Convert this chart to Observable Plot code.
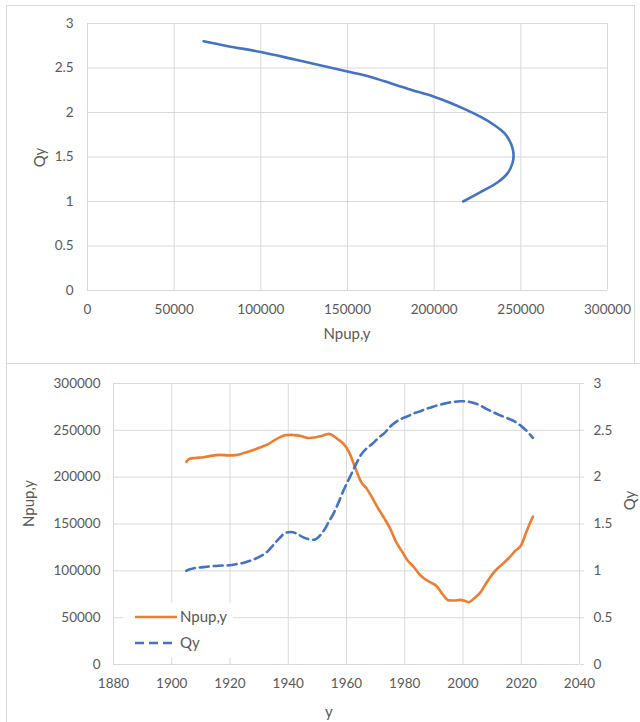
<!DOCTYPE html>
<html>
<head>
<meta charset="utf-8">
<script src="https://cdn.jsdelivr.net/npm/d3@7"></script>
<script src="https://cdn.jsdelivr.net/npm/@observablehq/plot@0.6"></script>
<style>
  html, body { margin: 0; padding: 0; background: #fff; }
  #page { position: relative; width: 640px; height: 722px; overflow: hidden; font-family: Lato, "Open Sans", sans-serif; color: #595959; }
  .title { position: absolute; font-size: 15px; color: #595959; white-space: nowrap; line-height: 1; }
</style>
</head>
<body>
<div id="page"></div>
<script>
// ---- Top chart: Qy vs Npup,y (curve) ----
const topN = [67000, 81000, 100000, 119600, 131000, 150000, 161500, 171400, 185000, 199500, 207700, 217300, 226900, 234600, 240400, 243300, 245200, 245800, 245200, 242300, 236500, 228800, 216700];
const topQ = [2.80, 2.745, 2.68, 2.595, 2.545, 2.46, 2.41, 2.35, 2.265, 2.18, 2.12, 2.04, 1.95, 1.86, 1.77, 1.69, 1.60, 1.52, 1.43, 1.316, 1.214, 1.128, 1.00];
const topXTicks = [0, 50000, 100000, 150000, 200000, 250000, 300000];
const topYTicks = [0, 0.5, 1, 1.5, 2, 2.5, 3];

// ---- Bottom chart: time series ----
const years = [1905, 1906, 1908, 1911, 1914, 1916, 1920, 1922, 1925, 1928, 1931, 1933, 1935, 1937, 1939, 1941, 1943, 1945, 1947, 1949, 1951, 1953, 1954, 1955, 1957, 1959, 1961, 1963, 1965, 1967, 1969, 1971, 1973, 1975, 1977, 1979, 1981, 1983, 1985, 1987, 1989, 1991, 1993, 1995, 1997, 1999, 2001, 2002, 2004, 2006, 2008, 2010, 2012, 2014, 2016, 2018, 2020, 2022, 2024];
const npup = [216500, 219500, 220500, 221300, 223000, 223800, 223300, 223500, 226000, 229000, 232500, 235000, 239000, 242500, 244800, 245200, 244600, 243300, 241800, 242300, 243700, 245500, 246200, 245000, 240500, 235500, 226000, 210000, 195000, 187500, 177000, 166000, 156000, 145000, 131000, 121000, 111000, 104500, 96500, 91000, 87500, 83500, 75000, 68500, 68300, 69000, 67500, 66500, 71000, 77000, 87000, 96000, 103000, 108500, 114500, 121500, 127500, 143500, 158000];
const qy = [1.00, 1.015, 1.03, 1.04, 1.05, 1.055, 1.06, 1.07, 1.09, 1.12, 1.165, 1.21, 1.28, 1.35, 1.405, 1.415, 1.395, 1.36, 1.338, 1.332, 1.38, 1.47, 1.53, 1.58, 1.71, 1.86, 1.99, 2.12, 2.24, 2.31, 2.36, 2.42, 2.47, 2.54, 2.59, 2.625, 2.65, 2.68, 2.70, 2.725, 2.745, 2.765, 2.78, 2.795, 2.805, 2.81, 2.81, 2.805, 2.79, 2.765, 2.73, 2.70, 2.67, 2.645, 2.62, 2.59, 2.545, 2.49, 2.42];
const yearTicks = [1880, 1900, 1920, 1940, 1960, 1980, 2000, 2020, 2040];
const leftTicks = [0, 50000, 100000, 150000, 200000, 250000, 300000];
const rightTicks = [0, 0.5, 1, 1.5, 2, 2.5, 3];

const ORANGE = "#ED7D31", BLUE = "#4472C4", GRID = "#d9d9d9", TXT = "#595959";
const FONT = "Lato, 'Open Sans', sans-serif";

const page = document.getElementById("page");
function place(el, left, topPx) { el.style.position = "absolute"; el.style.left = left + "px"; el.style.top = topPx + "px"; page.appendChild(el); return el; }
function title(text, cx, cy, rot) {
  const d = document.createElement("div");
  d.className = "title";
  d.textContent = text;
  page.appendChild(d);
  const w = d.offsetWidth, h = d.offsetHeight;
  d.style.left = (cx - w / 2) + "px";
  d.style.top = (cy - h / 2) + "px";
  if (rot) d.style.transform = `rotate(${rot}deg)`;
  return d;
}

// Chart borders
const b1 = document.createElement("div");
b1.style.cssText = `width:629px;height:359px;border:1px solid ${GRID};box-sizing:border-box;`;
place(b1, 6, 5);
const b2 = document.createElement("div");
b2.style.cssText = `width:700px;height:400px;border-left:1px solid ${GRID};border-top:1px solid ${GRID};box-sizing:border-box;`;
place(b2, 6, 363);

// ---- Top plot ----
const topData = topN.map((n, i) => ({n, q: topQ[i]}));
const topPlot = Plot.plot({
  width: 640, height: 364,
  marginLeft: 87, marginRight: 33, marginTop: 23, marginBottom: 74,
  style: {fontFamily: FONT, fontSize: "13.5px", color: TXT, background: "transparent", overflow: "visible"},
  x: {domain: [0, 300000], label: null},
  y: {domain: [0, 3], label: null},
  marks: [
    Plot.gridX(topXTicks, {stroke: GRID, strokeOpacity: 1, strokeWidth: 1}),
    Plot.gridY(topYTicks, {stroke: GRID, strokeOpacity: 1, strokeWidth: 1}),
    Plot.axisX(topXTicks, {tickSize: 0, tickPadding: 14, tickFormat: d => String(d), label: null, fill: TXT}),
    Plot.axisY(topYTicks, {tickSize: 0, tickPadding: 14, tickFormat: d => String(d), label: null, fill: TXT}),
    Plot.line(topData, {x: "n", y: "q", stroke: BLUE, strokeWidth: 2.6, curve: "catmull-rom"})
  ]
});
place(topPlot, 0, 0);
title("Npup,y", 347, 333, 0);
title("Qy", 40, 157, -90);

// ---- Bottom plot ----
const series = years.map((y, i) => ({year: y, n: npup[i], q: qy[i]}));
const SCALE = 100000; // right axis (Qy) shares the left scale: 3 -> 300000
const bottomPlot = Plot.plot({
  width: 640, height: 358,
  marginLeft: 113, marginRight: 61, marginTop: 19, marginBottom: 58,
  style: {fontFamily: FONT, fontSize: "13.5px", color: TXT, background: "transparent", overflow: "visible"},
  x: {domain: [1880, 2040], label: null},
  y: {domain: [0, 300000], label: null},
  marks: [
    Plot.gridX(yearTicks, {stroke: GRID, strokeOpacity: 1, strokeWidth: 1}),
    Plot.gridY(leftTicks, {stroke: GRID, strokeOpacity: 1, strokeWidth: 1}),
    Plot.axisX(yearTicks, {tickSize: 0, tickPadding: 14, tickFormat: d => String(d), label: null, fill: TXT}),
    Plot.axisY(leftTicks, {anchor: "left", tickSize: 0, tickPadding: 13, tickFormat: d => String(d), label: null, fill: TXT}),
    Plot.axisY(rightTicks.map(v => v * SCALE), {anchor: "right", tickSize: 4, stroke: GRID, tickPadding: 10, tickFormat: d => String(d / SCALE), label: null, fill: TXT}),
    Plot.line(series, {x: "year", y: "n", stroke: ORANGE, strokeWidth: 2.6, curve: "monotone-x"}),
    Plot.line(series, {x: "year", y: d => d.q * SCALE, stroke: BLUE, strokeWidth: 2.6, strokeDasharray: "9,5", curve: "monotone-x"})
  ]
});
place(bottomPlot, 0, 364);
title("y", 329, 711, 0);
title("Npup,y", 28, 503, -90);
title("Qy", 630, 500, -90);

// Legend (inside plot area, lower left)
const leg = document.createElement("div");
leg.style.cssText = `width:110px;height:55px;background:#fff;`;
place(leg, 123, 603);
const legSvg = d3.create("svg").attr("width", 110).attr("height", 55).style("position", "absolute").style("left", "0px").style("top", "0px");
legSvg.append("line").attr("x1", 12).attr("x2", 54).attr("y1", 14).attr("y2", 14).attr("stroke", ORANGE).attr("stroke-width", 2.6);
legSvg.append("line").attr("x1", 12).attr("x2", 54).attr("y1", 40).attr("y2", 40).attr("stroke", BLUE).attr("stroke-width", 2.6).attr("stroke-dasharray", "9,5");
legSvg.append("text").attr("x", 57).attr("y", 14).attr("dy", "0.35em").attr("fill", TXT).style("font-family", FONT).style("font-size", "15px").text("Npup,y");
legSvg.append("text").attr("x", 57).attr("y", 40).attr("dy", "0.35em").attr("fill", TXT).style("font-family", FONT).style("font-size", "15px").text("Qy");
leg.appendChild(legSvg.node());
</script>
</body>
</html>
